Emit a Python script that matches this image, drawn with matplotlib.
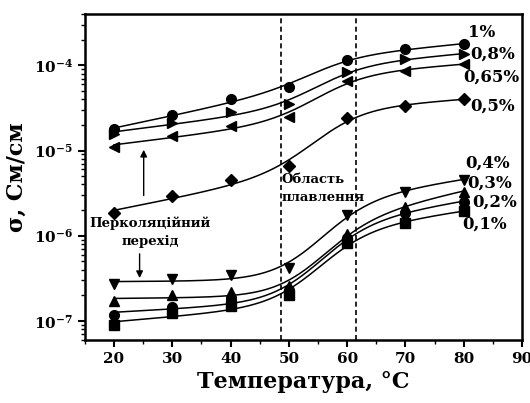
import numpy as np
import matplotlib
matplotlib.use("Agg")
import matplotlib.pyplot as plt
from matplotlib.ticker import LogLocator, NullFormatter, MultipleLocator

plt.rcParams['font.family'] = ['DejaVu Serif']
plt.rcParams['mathtext.fontset'] = 'dejavuserif'
plt.rcParams['font.weight'] = 'bold'

temps = [20, 30, 40, 50, 60, 70, 80]

s_1 = [1.78e-5, 2.6e-5, 4.0e-5, 5.6e-5, 1.15e-4, 1.55e-4, 1.77e-4]
s_08 = [1.58e-5, 2.1e-5, 2.8e-5, 3.55e-5, 8.3e-5, 1.18e-4, 1.35e-4]
s_065 = [1.1e-5, 1.5e-5, 1.96e-5, 2.5e-5, 6.5e-5, 8.7e-5, 1.03e-4]
s_05 = [1.85e-6, 2.9e-6, 4.45e-6, 6.6e-6, 2.4e-5, 3.3e-5, 4.0e-5]
s_04 = [2.7e-7, 3.1e-7, 3.5e-7, 4.2e-7, 1.77e-6, 3.3e-6, 4.55e-6]
s_03 = [1.7e-7, 2.0e-7, 2.2e-7, 2.6e-7, 1.05e-6, 2.2e-6, 3.3e-6]
s_02 = [1.18e-7, 1.45e-7, 1.8e-7, 2.3e-7, 9.5e-7, 1.85e-6, 2.5e-6]
s_01 = [9.0e-8, 1.22e-7, 1.5e-7, 2.0e-7, 8.3e-7, 1.4e-6, 1.95e-6]

series = [s_1, s_08, s_065, s_05, s_04, s_03, s_02, s_01]
markers = ['o', '>', '<', 'D', 'v', '^', 'o', 's']
labels = ['1%', '0,8%', '0,65%', '0,5%', '0,4%', '0,3%', '0,2%', '0,1%']


def sigmoid_fit(x, y, x0=55.0, w=4.5, n=200):
    # least squares in log space: linear base + logistic step whose slope
    # may differ after the transition
    x = np.asarray(x, float)
    ly = np.log10(np.asarray(y, float))

    def design(t):
        g = 1.0 / (1.0 + np.exp(-(t - x0) / w))
        return np.column_stack([np.ones_like(t), t - x0, g, (t - x0) * g])

    coef, *_ = np.linalg.lstsq(design(x), ly, rcond=None)
    xs = np.linspace(x[0], x[-1], n)
    return xs, 10**(design(xs) @ coef)


fig, ax = plt.subplots(figsize=(5.3, 4.03), dpi=100)
fig.subplots_adjust(left=0.16, right=0.985, top=0.965, bottom=0.157)

for s, mk in zip(series, markers):
    xs, ys = sigmoid_fit(temps, s)
    ax.plot(xs, ys, color='black', lw=1.1)
    ms = 6 if mk == 'D' else 7
    ax.plot(temps, s, linestyle='none', marker=mk, color='black', ms=ms)

ax.set_yscale('log')
ax.set_xlim(15, 90)
ax.set_ylim(6e-8, 4e-4)

ax.axvline(48.6, color='black', ls=(0, (3, 2)), lw=1.2)
ax.axvline(61.6, color='black', ls=(0, (3, 2)), lw=1.2)

# series labels
lab_pos = [(80.7, 2.45e-4), (81.2, 1.35e-4), (80.0, 7.2e-5), (81.2, 3.3e-5),
           (80.2, 7.2e-6), (80.6, 4.2e-6), (81.4, 2.45e-6), (79.7, 1.35e-6)]
for lb, (lx, ly) in zip(labels, lab_pos):
    ax.text(lx, ly, lb, fontsize=12, fontweight='bold', va='center', ha='left')

ax.text(48.8, 3.6e-6, 'Область\nплавлення', fontsize=9.5, fontweight='bold',
        va='center', ha='left', linespacing=1.5)
ax.text(26.2, 1.1e-6, 'Перколяційний\nперехід', fontsize=9.5, fontweight='bold',
        va='center', ha='center', linespacing=1.5)
ax.annotate('', xy=(25.1, 1.1e-5), xytext=(25.1, 2.75e-6),
            arrowprops=dict(arrowstyle='-|>', color='black', lw=1, mutation_scale=10))
ax.annotate('', xy=(24.4, 2.95e-7), xytext=(24.4, 6.6e-7),
            arrowprops=dict(arrowstyle='-|>', color='black', lw=1, mutation_scale=10))

ax.set_xlabel('Температура, °C', fontsize=16, fontweight='bold')
ax.set_ylabel('σ, См/см', fontsize=16, fontweight='bold')

ax.xaxis.set_major_locator(MultipleLocator(10))
ax.xaxis.set_minor_locator(MultipleLocator(5))
ax.yaxis.set_major_locator(LogLocator(base=10, numticks=10))
ax.yaxis.set_minor_locator(LogLocator(base=10, subs=np.arange(2, 10), numticks=20))
ax.yaxis.set_minor_formatter(NullFormatter())
ax.tick_params(which='major', direction='out', length=5, width=1.5, labelsize=11)
ax.tick_params(which='minor', direction='out', length=3, width=1)
for lbl in ax.get_xticklabels() + ax.get_yticklabels():
    lbl.set_fontweight('bold')
for sp in ax.spines.values():
    sp.set_linewidth(1.8)

fig.savefig('out.png', dpi=100)
